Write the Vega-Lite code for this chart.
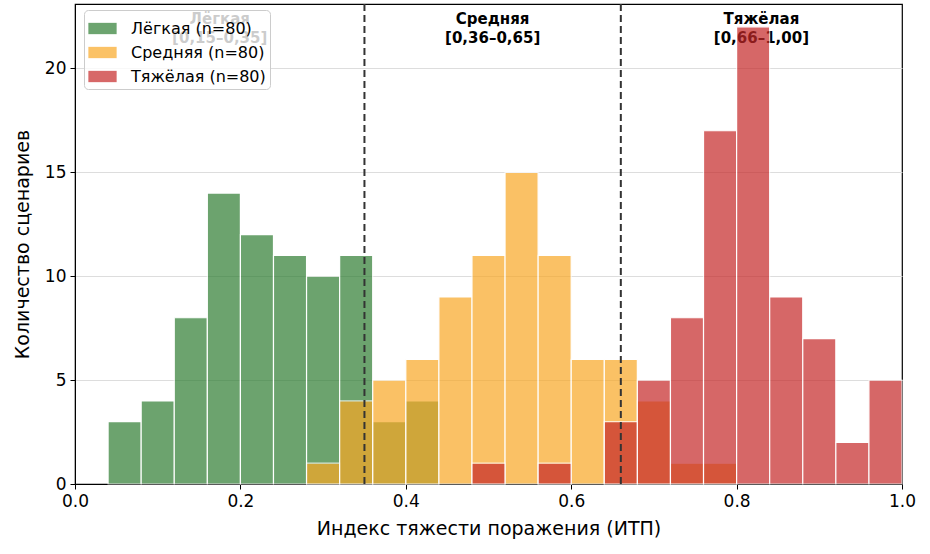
{
  "$schema": "https://vega.github.io/schema/vega-lite/v6.json",
  "width": 827,
  "height": 480,
  "autosize": {"type": "none"},
  "padding": {"left": 75, "top": 4, "right": 28, "bottom": 70},
  "config": {
    "font": "DejaVu Sans",
    "view": {"stroke": "black", "strokeWidth": 1.2},
    "axis": {"labelFont": "DejaVu Sans", "titleFont": "DejaVu Sans", "labelFontSize": 17, "titleFontSize": 19, "titleFontWeight": "normal", "labelColor": "black", "titleColor": "black", "tickColor": "black", "domainColor": "black", "tickSize": 5, "labelFlush": false}
  },
  "datasets": {
    "bins": [
      {"group": "Лёгкая (n=80)", "x0": 0.04, "x1": 0.08, "count": 3},
      {"group": "Лёгкая (n=80)", "x0": 0.08, "x1": 0.12, "count": 4},
      {"group": "Лёгкая (n=80)", "x0": 0.12, "x1": 0.16, "count": 8},
      {"group": "Лёгкая (n=80)", "x0": 0.16, "x1": 0.20, "count": 14},
      {"group": "Лёгкая (n=80)", "x0": 0.20, "x1": 0.24, "count": 12},
      {"group": "Лёгкая (n=80)", "x0": 0.24, "x1": 0.28, "count": 11},
      {"group": "Лёгкая (n=80)", "x0": 0.28, "x1": 0.32, "count": 10},
      {"group": "Лёгкая (n=80)", "x0": 0.32, "x1": 0.36, "count": 11},
      {"group": "Лёгкая (n=80)", "x0": 0.36, "x1": 0.40, "count": 3},
      {"group": "Лёгкая (n=80)", "x0": 0.40, "x1": 0.44, "count": 4},
      {"group": "Средняя (n=80)", "x0": 0.28, "x1": 0.32, "count": 1},
      {"group": "Средняя (n=80)", "x0": 0.32, "x1": 0.36, "count": 4},
      {"group": "Средняя (n=80)", "x0": 0.36, "x1": 0.40, "count": 5},
      {"group": "Средняя (n=80)", "x0": 0.40, "x1": 0.44, "count": 6},
      {"group": "Средняя (n=80)", "x0": 0.44, "x1": 0.48, "count": 9},
      {"group": "Средняя (n=80)", "x0": 0.48, "x1": 0.52, "count": 11},
      {"group": "Средняя (n=80)", "x0": 0.52, "x1": 0.56, "count": 15},
      {"group": "Средняя (n=80)", "x0": 0.56, "x1": 0.60, "count": 11},
      {"group": "Средняя (n=80)", "x0": 0.60, "x1": 0.64, "count": 6},
      {"group": "Средняя (n=80)", "x0": 0.64, "x1": 0.68, "count": 6},
      {"group": "Средняя (n=80)", "x0": 0.68, "x1": 0.72, "count": 4},
      {"group": "Средняя (n=80)", "x0": 0.72, "x1": 0.76, "count": 1},
      {"group": "Средняя (n=80)", "x0": 0.76, "x1": 0.80, "count": 1},
      {"group": "Тяжёлая (n=80)", "x0": 0.48, "x1": 0.52, "count": 1},
      {"group": "Тяжёлая (n=80)", "x0": 0.56, "x1": 0.60, "count": 1},
      {"group": "Тяжёлая (n=80)", "x0": 0.64, "x1": 0.68, "count": 3},
      {"group": "Тяжёлая (n=80)", "x0": 0.68, "x1": 0.72, "count": 5},
      {"group": "Тяжёлая (n=80)", "x0": 0.72, "x1": 0.76, "count": 8},
      {"group": "Тяжёлая (n=80)", "x0": 0.76, "x1": 0.80, "count": 17},
      {"group": "Тяжёлая (n=80)", "x0": 0.80, "x1": 0.84, "count": 22},
      {"group": "Тяжёлая (n=80)", "x0": 0.84, "x1": 0.88, "count": 9},
      {"group": "Тяжёлая (n=80)", "x0": 0.88, "x1": 0.92, "count": 7},
      {"group": "Тяжёлая (n=80)", "x0": 0.92, "x1": 0.96, "count": 2},
      {"group": "Тяжёлая (n=80)", "x0": 0.96, "x1": 1.00, "count": 5}
    ],
    "labels": [
      {"x": 0.175, "y": 22.7, "text": "Лёгкая\n[0,15–0,35]"},
      {"x": 0.505, "y": 22.7, "text": "Средняя\n[0,36–0,65]"},
      {"x": 0.83, "y": 22.7, "text": "Тяжёлая\n[0,66–1,00]"}
    ],
    "thresholds": [{"x": 0.35}, {"x": 0.66}]
  },
  "layer": [
    {
      "data": {"name": "labels"},
      "mark": {"type": "text", "fontWeight": "bold", "fontSize": 15, "baseline": "top", "align": "center", "lineBreak": "\n", "lineHeight": 19, "color": "black"},
      "encoding": {
        "x": {"field": "x", "type": "quantitative", "scale": {"domain": [0, 1]}},
        "y": {"field": "y", "type": "quantitative", "scale": {"domain": [0, 23.1]}},
        "text": {"field": "text"}
      }
    },
    {
      "data": {"name": "bins"},
      "mark": {"type": "bar", "opacity": 0.7, "stroke": "white", "strokeWidth": 1.2, "strokeOpacity": 1},
      "encoding": {
        "x": {"field": "x0", "type": "quantitative", "scale": {"domain": [0, 1], "nice": false, "zero": false},
              "axis": {"title": "Индекс тяжести поражения (ИТП)", "values": [0, 0.2, 0.4, 0.6, 0.8, 1.0], "format": ".1f", "grid": false, "titlePadding": 10, "labelPadding": 4}},
        "x2": {"field": "x1"},
        "y": {"field": "count", "type": "quantitative", "stack": null, "scale": {"domain": [0, 23.1], "nice": false},
              "axis": {"title": "Количество сценариев", "values": [0, 5, 10, 15, 20], "grid": true, "gridColor": "#dddddd", "gridWidth": 1, "titlePadding": 12, "labelPadding": 4}},
        "y2": {"datum": 0},
        "color": {"field": "group", "type": "nominal",
                  "scale": {"domain": ["Лёгкая (n=80)", "Средняя (n=80)", "Тяжёлая (n=80)"], "range": ["#2e7d32", "#f9a825", "#c62828"]},
                  "legend": {"title": null, "orient": "none", "legendX": 9, "legendY": 6, "fillColor": "rgba(255,255,255,0.8)", "strokeColor": "#cccccc", "cornerRadius": 4, "padding": 4, "labelFontSize": 16, "labelFont": "DejaVu Sans", "labelColor": "black", "symbolType": "M-1,-0.4H1V0.4H-1Z", "symbolSize": 800, "symbolOpacity": 0.7, "symbolStrokeWidth": 0, "rowPadding": 1, "labelOffset": 14}},
        "order": {"field": "group"}
      }
    },
    {
      "data": {"name": "thresholds"},
      "mark": {"type": "rule", "color": "#333333", "strokeWidth": 2, "strokeDash": [7, 4]},
      "encoding": {"x": {"field": "x", "type": "quantitative"}}
    }
  ]
}
